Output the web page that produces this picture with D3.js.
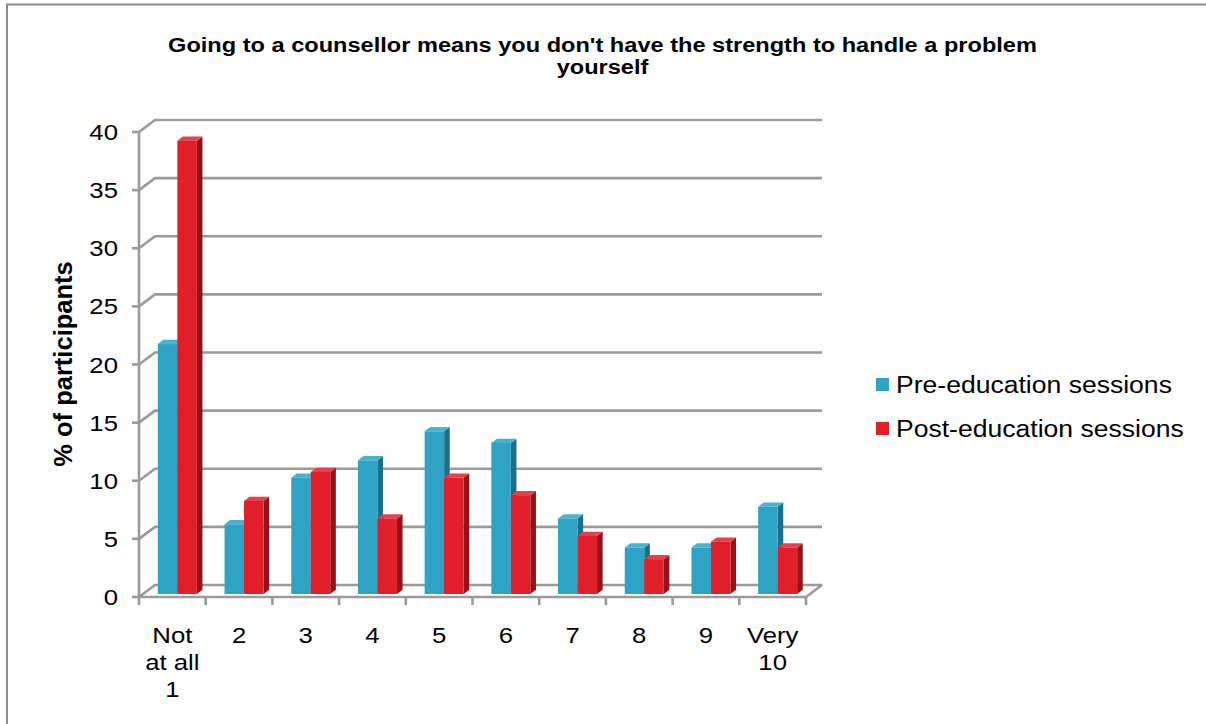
<!DOCTYPE html>
<html>
<head>
<meta charset="utf-8">
<script src="https://cdn.jsdelivr.net/npm/d3@7"></script>
<style>
  html, body { margin: 0; padding: 0; background: #fff; }
  svg { display: block; font-family: "Liberation Sans", Arial, sans-serif; }
</style>
</head>
<body>
<svg id="chart" width="1206" height="724"></svg>
<script>
// Survey responses, % of participants per rating
const categories = ["1", "2", "3", "4", "5", "6", "7", "8", "9", "10"];
const categoryLabels = [["Not", "at all", "1"], ["2"], ["3"], ["4"], ["5"], ["6"], ["7"], ["8"], ["9"], ["Very", "10"]];
const seriesNames = ["Pre-education sessions", "Post-education sessions"];
const preValues = [21.5, 6, 10, 11.5, 14, 13, 6.5, 4, 4, 7.5];
const postValues = [39, 8, 10.5, 6.5, 10, 8.5, 5, 3, 4.5, 4];
const yTicks = [0, 5, 10, 15, 20, 25, 30, 35, 40];
const titleLines = ["Going to a counsellor means you don't have the strength to handle a problem", "yourself"];
const yTitle = "% of participants";

const svg = d3.select("#chart");

// text in this chart is set slightly wide
const stretch = 1.17;
function wideText(parent, x, y, str, size, anchor, weight, sx = stretch) {
  return parent.append("text")
    .attr("transform", `translate(${x},${y}) scale(${sx},1)`)
    .attr("text-anchor", anchor).attr("font-size", size)
    .attr("font-weight", weight || "normal").attr("fill", "#000")
    .text(str);
}

// palette for the extruded bars: front, side, top
const palette = [
  { front: "#2ea3c6", side: "#1d6f89", top: "#45b3d2" },
  { front: "#e01f2b", side: "#961118", top: "#e8404a" }
];

// outer frame (left and top edges)
svg.append("path")
  .attr("d", "M7,724 L7,4.5 L1206,4.5")
  .attr("fill", "none").attr("stroke", "#8c8c8c").attr("stroke-width", 2);

// plot geometry
const left = 139, right = 806, depthX = 16, depthY = -12;
const x = d3.scaleBand().domain(categories).range([left, right]);
const y = d3.scaleLinear().domain([0, 40]).range([597, 132]);

const grid = svg.append("g").attr("stroke", "#9a9a9a").attr("stroke-width", 2.6).attr("fill", "none");

// back wall gridlines with diagonal connectors to the front axis
yTicks.forEach(t => {
  const yy = y(t);
  grid.append("path").attr("d", `M${left},${yy} L${left + depthX},${yy + depthY} L${right + depthX},${yy + depthY}`);
});
// floor
grid.append("path").attr("d", `M${left},${y(0)} L${right},${y(0)} L${right + depthX},${y(0) + depthY}`);
// front value axis
grid.append("line").attr("x1", left).attr("x2", left).attr("y1", y(40)).attr("y2", y(0));
// value ticks
yTicks.forEach(t => {
  grid.append("line").attr("x1", left - 7).attr("x2", left).attr("y1", y(t)).attr("y2", y(t));
});
// category ticks
const bounds = categories.map(c => x(c)).concat([right]);
bounds.forEach(b => {
  grid.append("line").attr("x1", b).attr("x2", b).attr("y1", y(0)).attr("y2", y(0) + 8);
});

// value tick labels
const tickG = svg.append("g");
yTicks.forEach(t => wideText(tickG, 118, y(t) + 8, String(t), 22, "end"));

// category labels
const catG = svg.append("g");
categories.forEach((c, i) => {
  const cx = x(c) + x.bandwidth() / 2;
  categoryLabels[i].forEach((line, j) => wideText(catG, cx, 643 + j * 27, line, 22, "middle"));
});

// y axis title
svg.append("text")
  .attr("transform", "translate(72,364) rotate(-90)")
  .attr("text-anchor", "middle").attr("font-size", 25.5).attr("font-weight", "bold")
  .text(yTitle);

// chart title, widened to its box
const titleG = svg.append("g");
const t1 = wideText(titleG, 602.5, 52, titleLines[0], 20, "middle", "bold", 1);
const titleScale = 869 / t1.node().getComputedTextLength();
t1.attr("transform", `translate(602.5,52) scale(${titleScale},1)`);
wideText(titleG, 602.5, 74, titleLines[1], 20, "middle", "bold", titleScale);

// bars: each sits at a fixed depth inside the floor
const frontShift = 0.25, backShift = 0.6;
const fx = depthX * frontShift, fy = depthY * frontShift;
const bx = depthX * (backShift - frontShift), by = depthY * (backShift - frontShift);
const groupFrac = 0.585;
const inner = d3.scaleBand().domain([0, 1]).range([0, x.bandwidth() * groupFrac]);

const barsG = svg.append("g");
[preValues, postValues].forEach((vals, s) => {
  const col = palette[s];
  vals.forEach((v, i) => {
    const c = categories[i];
    const x0 = x(c) + (x.bandwidth() * (1 - groupFrac)) / 2 + fx + 1 + inner(s);
    const x1 = x0 + inner.bandwidth();
    const yb = y(0) + fy, yt = y(v) + fy;
    const g = barsG.append("g");
    // side face
    g.append("path").attr("d", `M${x1},${yt} L${x1 + bx},${yt + by} L${x1 + bx},${yb + by} L${x1},${yb} Z`).attr("fill", col.side);
    // top face
    g.append("path").attr("d", `M${x0},${yt} L${x0 + bx},${yt + by} L${x1 + bx},${yt + by} L${x1},${yt} Z`).attr("fill", col.top);
    // front face
    g.append("rect").attr("x", x0).attr("y", yt).attr("width", x1 - x0).attr("height", yb - yt).attr("fill", col.front);
  });
});

// legend
const legend = svg.append("g");
seriesNames.forEach((name, i) => {
  const ly = 384 + i * 44;
  legend.append("rect").attr("x", 876).attr("y", ly - 6).attr("width", 13).attr("height", 13).attr("fill", palette[i].front);
  wideText(legend, 896, ly + 8.5, name, 23.5, "start", "normal", 1.13);
});
</script>
</body>
</html>
